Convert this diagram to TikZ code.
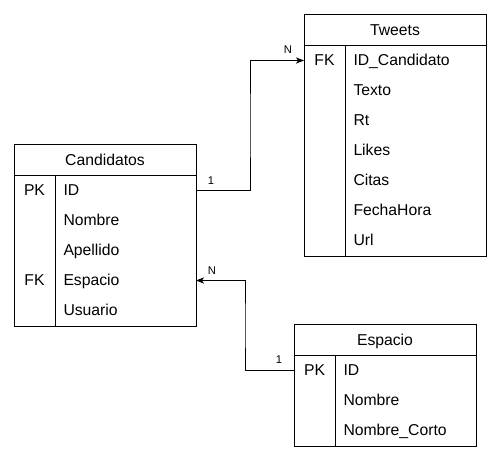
\documentclass[tikz,border=0pt]{standalone}
\usepackage{fontspec}
\setmainfont{Liberation Sans}
\usepackage{tikz}
\usetikzlibrary{arrows.meta,positioning,calc}

\newcommand{\tblfont}{\fontsize{11.8}{14}\selectfont}
\newcommand{\lblfont}{\fontsize{8.4}{10}\selectfont}

\tikzset{
  every picture/.append style={line width=0.75pt},
  every node/.append style={font=\tblfont},
}
\tikzset{
  tblhead/.style={minimum width=135pt, minimum height=22.5pt, inner sep=0pt,
                  text height=9.5pt, text depth=1.5pt},
  tkey/.style={minimum width=30pt, minimum height=22.5pt, inner sep=0pt,
               text height=9.5pt, text depth=1.5pt},
  tfield/.style={minimum height=22.5pt, text width=93pt, inner xsep=6pt, inner ysep=0pt,
                 align=left, text height=9.5pt, text depth=1.5pt},
  tblbox/.style={draw, line width=0.75pt},
  rel/.style={-{Stealth[length=6pt,width=4.6pt,inset=1.6pt]}, line width=0.75pt},
  lbl/.style={font=\lblfont, inner sep=0pt}
}

\begin{document}
\begin{tikzpicture}[x=0.75pt, y=-0.75pt]

\useasboundingbox (0,0) rectangle (501,461);

% Candidatos table
\node[tblhead] (cand) at (105,160) {Candidatos};
\foreach \k/\f [count=\i] in {PK/ID, /Nombre, /Apellido, FK/Espacio, /Usuario}{
  \node[tkey] (cand-k\i) at ($(cand.south west)+(20,\i*30-15)$) {\k};
  \node[tfield, right=0pt of cand-k\i] (cand-f\i) {\f};
}
\draw[tblbox] (cand.north west) rectangle (cand-f5.south east);
\draw[tblbox] (cand.south west) -- (cand.south east);
\draw[tblbox] (cand-k1.north east) -- (cand-k5.south east);

% Tweets table
\node[tblhead] (tw) at (395,30) {Tweets};
\foreach \k/\f [count=\i] in {FK/ID\_Candidato, /Texto, /Rt, /Likes, /Citas, /FechaHora, /Url}{
  \node[tkey] (tw-k\i) at ($(tw.south west)+(20,\i*30-15)$) {\k};
  \node[tfield, right=0pt of tw-k\i] (tw-f\i) {\f};
}
\draw[tblbox] (tw.north west) rectangle (tw-f7.south east);
\draw[tblbox] (tw.south west) -- (tw.south east);
\draw[tblbox] (tw-k1.north east) -- (tw-k7.south east);

% Espacio table
\node[tblhead] (esp) at (385,340) {Espacio};
\foreach \k/\f [count=\i] in {PK/ID, /Nombre, /Nombre\_Corto}{
  \node[tkey] (esp-k\i) at ($(esp.south west)+(20,\i*30-15)$) {\k};
  \node[tfield, right=0pt of esp-k\i] (esp-f\i) {\f};
}
\draw[tblbox] (esp.north west) rectangle (esp-f3.south east);
\draw[tblbox] (esp.south west) -- (esp.south east);
\draw[tblbox] (esp-k1.north east) -- (esp-k3.south east);

% Relations
\draw[rel] (cand-f1.east) -| ($(cand-f1.east)!.5!(tw-k1.west)$) |- (tw-k1.west);
\draw[rel] (esp-k1.west) -| ($(esp-k1.west)!.5!(cand-f4.east)$) |- (cand-f4.east);

% Cardinalities
\node[lbl] (c-one) at ($(cand-f1.east)+(15,-10)$) {1};
\node[lbl] (tw-n) at ($(tw-k1.west)+(-16,-11)$) {N};
\node[lbl] (c-n) at ($(cand-f4.east)+(16,-10)$) {N};
\node[lbl] (e-one) at ($(esp-k1.west)+(-15,-11)$) {1};

\end{tikzpicture}
\end{document}
